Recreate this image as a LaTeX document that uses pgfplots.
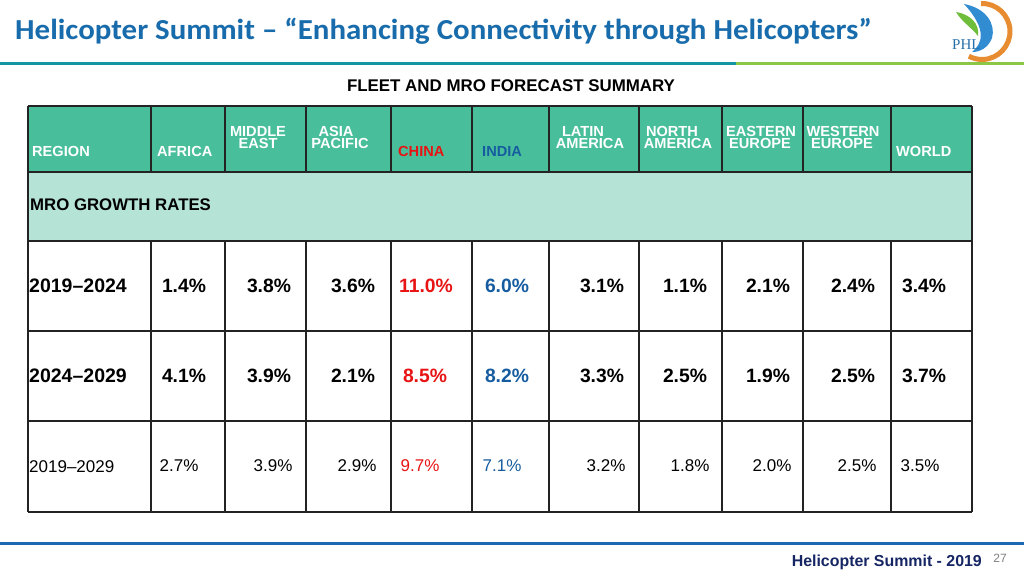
\documentclass[border=0pt]{standalone}
\usepackage{pgfplots}
\pgfplotsset{compat=1.18}
\usepackage{pgfplotstable}
\usepackage{fontspec}
\setmainfont{Liberation Sans}
\newfontfamily\titlefont{Carlito}
\definecolor{titleblue}{RGB}{24,108,172}
\definecolor{hdrgreen}{RGB}{72,190,155}
\definecolor{lightgreen}{RGB}{181,227,214}
\definecolor{tealline}{RGB}{20,150,162}
\definecolor{greenline}{RGB}{140,198,70}
\definecolor{cnred}{RGB}{232,20,20}
\definecolor{inblue}{RGB}{22,92,160}
\definecolor{navy}{RGB}{22,38,100}
\definecolor{botblue}{RGB}{28,104,178}
\definecolor{gridc}{RGB}{35,35,35}
\definecolor{logoorange}{RGB}{232,140,50}
\definecolor{logoblue}{RGB}{50,140,210}
\definecolor{logogreen}{RGB}{110,190,60}

% growth rates (%) by region; xa/xb/xc = centre of the value in each row
\pgfplotstableread{
xa   xb   xc   a     b     c
184  184  179  1.4   4.1   2.7
269  269  273  3.8   3.9   3.9
353  353  357  3.6   2.1   2.9
602  602  606  3.1   3.3   3.2
685  685  690  1.1   2.5   1.8
768  768  772  2.1   1.9   2.0
853  853  857  2.4   2.5   2.5
924  924  920  3.4   3.7   3.5
}\others
\pgfplotstableread{
xa   xb   xc   a     b     c
426  425  420  11.0  8.5   9.7
}\china
\pgfplotstableread{
xa   xb   xc   a     b     c
507  507  502  6.0   8.2   7.1
}\india

\pgfplotsset{
  pctlabel/.style={draw=none, mark=none, point meta=explicit,
    nodes near coords={\pgfmathprintnumber[fixed,fixed zerofill,precision=1,assume math mode=true]{\pgfplotspointmeta}\%}},
  boldval/.style={pctlabel,
    every node near coord/.append style={anchor=center, inner sep=0pt, font=\bfseries\fontsize{19.3}{20}\selectfont, text=#1}},
  regval/.style={pctlabel,
    every node near coord/.append style={anchor=center, inner sep=0pt, font=\fontsize{17}{18}\selectfont, text=#1}},
}

\begin{document}
\begin{tikzpicture}
\begin{axis}[
  scale only axis, width=1024pt, height=576pt,
  xmin=0, xmax=1024, ymin=0, ymax=576, y dir=reverse,
  hide axis, clip=false,
]
% background
\fill[white] (axis cs:0,0) rectangle (axis cs:1024,576);
% title
\node[anchor=base west, inner sep=0pt, xscale=1.066, font=\titlefont\bfseries\fontsize{29}{30}\selectfont, text=titleblue] at (axis cs:15,39.5) {Helicopter Summit – “Enhancing Connectivity through Helicopters”};
\fill[tealline] (axis cs:0,62.2) rectangle (axis cs:736,65.2);
\fill[greenline] (axis cs:736,62.2) rectangle (axis cs:1024,65.2);
% logo (approximation)
\draw[logoorange, line width=5pt] (axis cs:981,3.5) arc[start angle=92, end angle=-118, radius=28pt];
\fill[logogreen] (axis cs:956,12) .. controls (axis cs:970,14) and (axis cs:980,24) .. (axis cs:978,36) .. controls (axis cs:972,28) and (axis cs:962,22) .. (axis cs:956,12);
\fill[logoblue] (axis cs:964,4) .. controls (axis cs:986,8) and (axis cs:996,24) .. (axis cs:992,38) .. controls (axis cs:988,48) and (axis cs:980,52) .. (axis cs:972,52) .. controls (axis cs:982,44) and (axis cs:988,30) .. (axis cs:964,4);
\node[anchor=base west, inner sep=0pt, font=\fontspec{Liberation Serif}\fontsize{15}{15}\selectfont, text=logoblue!80!black] at (axis cs:952,49) {PHL};
% subtitle
\node[anchor=base, inner sep=0pt, font=\bfseries\fontsize{16.9}{17}\selectfont] at (axis cs:511,91) {FLEET AND MRO FORECAST SUMMARY};
% table fills
\fill[hdrgreen] (axis cs:28,106) rectangle (axis cs:972,172);
\fill[lightgreen] (axis cs:28,172) rectangle (axis cs:972,241);
% grid
\draw[gridc, line width=1.2pt] (axis cs:28,106) -- (axis cs:972,106)
  (axis cs:28,172) -- (axis cs:972,172)
  (axis cs:28,241) -- (axis cs:972,241)
  (axis cs:28,331) -- (axis cs:972,331)
  (axis cs:28,421) -- (axis cs:972,421)
  (axis cs:28,512) -- (axis cs:972,512)
  (axis cs:28,106) -- (axis cs:28,512)
  (axis cs:972,106) -- (axis cs:972,512)
  (axis cs:151,106) -- (axis cs:151,172) (axis cs:151,241) -- (axis cs:151,512)
  (axis cs:225,106) -- (axis cs:225,172) (axis cs:225,241) -- (axis cs:225,512)
  (axis cs:306,106) -- (axis cs:306,172) (axis cs:306,241) -- (axis cs:306,512)
  (axis cs:391,106) -- (axis cs:391,172) (axis cs:391,241) -- (axis cs:391,512)
  (axis cs:472,106) -- (axis cs:472,172) (axis cs:472,241) -- (axis cs:472,512)
  (axis cs:549,106) -- (axis cs:549,172) (axis cs:549,241) -- (axis cs:549,512)
  (axis cs:639,106) -- (axis cs:639,172) (axis cs:639,241) -- (axis cs:639,512)
  (axis cs:722,106) -- (axis cs:722,172) (axis cs:722,241) -- (axis cs:722,512)
  (axis cs:803,106) -- (axis cs:803,172) (axis cs:803,241) -- (axis cs:803,512)
  (axis cs:891,106) -- (axis cs:891,172) (axis cs:891,241) -- (axis cs:891,512);
% header labels
\begin{scope}[every node/.style={inner sep=0pt, font=\bfseries\fontsize{14.6}{15}\selectfont, text=white}]
\node[anchor=base west] at (axis cs:32,156) {REGION};
\node[anchor=base west] at (axis cs:157,156) {AFRICA};
\node[anchor=base] at (axis cs:258,136) {MIDDLE};
\node[anchor=base] at (axis cs:258,148) {EAST};
\node[anchor=base] at (axis cs:336,136) {ASIA};
\node[anchor=base] at (axis cs:340,148) {PACIFIC};
\node[anchor=base west, text=cnred] at (axis cs:398,156) {CHINA};
\node[anchor=base west, text=inblue] at (axis cs:482,156) {INDIA};
\node[anchor=base] at (axis cs:583,136) {LATIN};
\node[anchor=base] at (axis cs:590,148) {AMERICA};
\node[anchor=base] at (axis cs:672,136) {NORTH};
\node[anchor=base] at (axis cs:678,148) {AMERICA};
\node[anchor=base] at (axis cs:761,136) {EASTERN};
\node[anchor=base] at (axis cs:760,148) {EUROPE};
\node[anchor=base] at (axis cs:843,136) {WESTERN};
\node[anchor=base] at (axis cs:842,148) {EUROPE};
\node[anchor=base west] at (axis cs:896,156) {WORLD};
\end{scope}
\node[anchor=base west, inner sep=0pt, font=\bfseries\fontsize{16.8}{17}\selectfont] at (axis cs:30,210) {MRO GROWTH RATES};
% row labels
\node[anchor=base west, inner sep=0pt, font=\bfseries\fontsize{19.5}{20}\selectfont] at (axis cs:29,292) {2019–2024};
\node[anchor=base west, inner sep=0pt, font=\bfseries\fontsize{19.5}{20}\selectfont] at (axis cs:29,382) {2024–2029};
\node[anchor=base west, inner sep=0pt, font=\fontsize{17}{18}\selectfont] at (axis cs:29,472) {2019–2029};
% values
\addplot[boldval=black] table[x=xa, y expr=286, meta=a] {\others};
\addplot[boldval=cnred] table[x=xa, y expr=286, meta=a] {\china};
\addplot[boldval=inblue] table[x=xa, y expr=286, meta=a] {\india};
\addplot[boldval=black] table[x=xb, y expr=376, meta=b] {\others};
\addplot[boldval=cnred] table[x=xb, y expr=376, meta=b] {\china};
\addplot[boldval=inblue] table[x=xb, y expr=376, meta=b] {\india};
\addplot[regval=black] table[x=xc, y expr=466, meta=c] {\others};
\addplot[regval=cnred] table[x=xc, y expr=466, meta=c] {\china};
\addplot[regval=inblue] table[x=xc, y expr=466, meta=c] {\india};
% footer
\fill[botblue] (axis cs:0,542.3) rectangle (axis cs:1024,545.3);
\node[anchor=base east, inner sep=0pt, font=\bfseries\fontsize{15.9}{16}\selectfont, text=navy] at (axis cs:982,566.7) {Helicopter Summit - 2019};
\node[anchor=base, inner sep=0pt, font=\fontsize{12}{12}\selectfont, text=gray] at (axis cs:1000,562.7) {27};
\end{axis}
\end{tikzpicture}
\end{document}
